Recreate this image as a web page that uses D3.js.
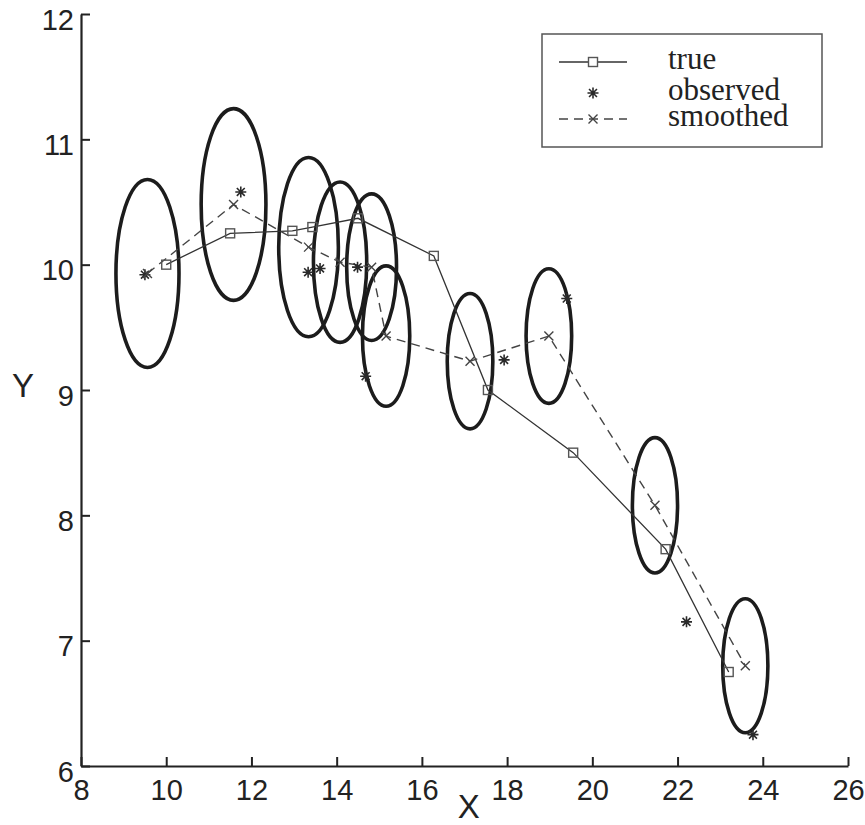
<!DOCTYPE html>
<html>
<head>
<meta charset="utf-8">
<script src="https://cdn.jsdelivr.net/npm/d3@7"></script>
<style>
  body { margin: 0; background: #fff; }
  .tick text { font-family: "Liberation Sans Narrow", "Arial Narrow", sans-serif; font-size: 29px; fill: #222; }
</style>
</head>
<body>
<script>
// values
const xTicks = [8, 10, 12, 14, 16, 18, 20, 22, 24, 26];
const yTicks = [6, 7, 8, 9, 10, 11, 12];

const trueX = [10.0, 11.5, 12.96, 13.43, 14.5, 16.28, 17.55, 19.55, 21.72, 23.2];
const trueY = [10.0, 10.25, 10.27, 10.30, 10.37, 10.07, 9.0, 8.5, 7.73, 6.75];

const obsX = [9.5, 11.75, 13.33, 13.61, 14.49, 14.68, 17.93, 19.4, 22.21, 23.77];
const obsY = [9.92, 10.58, 9.94, 9.97, 9.98, 9.11, 9.24, 9.73, 7.15, 6.25];

const smoothX = [9.56, 11.58, 13.34, 14.08, 14.82, 15.16, 17.13, 18.98, 21.47, 23.59];
const smoothY = [9.93, 10.48, 10.14, 10.02, 9.98, 9.43, 9.23, 9.43, 8.08, 6.80];

// covariance ellipse half-widths, in data units
const ellRx = [0.74, 0.76, 0.70, 0.625, 0.585, 0.555, 0.535, 0.535, 0.53, 0.53];
const ellRy = [0.75, 0.765, 0.715, 0.64, 0.585, 0.56, 0.54, 0.537, 0.54, 0.535];

const legendLabels = ["true", "observed", "smoothed"];

let margin = null, width = null, height = null;
let svg = null;
let x, y = null;

setupCanvasSize();
appendSvg("body");
setupScales();
appendAxes();
appendEllipses();
appendLines();
appendMarkers();
appendLegend();

function setupCanvasSize() {
  margin = {top: 14, left: 81, bottom: 59, right: 17};
  width = 865 - margin.left - margin.right;
  height = 825 - margin.top - margin.bottom;
}

function appendSvg(domElement) {
  svg = d3.select(domElement).append("svg")
    .attr("width", width + margin.left + margin.right)
    .attr("height", height + margin.top + margin.bottom)
    .append("g")
    .attr("transform", `translate(${margin.left}, ${margin.top})`);
}

function setupScales() {
  x = d3.scaleLinear().domain([8, 26]).range([0, width]);
  y = d3.scaleLinear().domain([6, 12]).range([height, 0]);
}

function appendAxes() {
  const gx = svg.append("g")
    .attr("transform", `translate(0, ${height})`)
    .call(d3.axisBottom(x).tickValues(xTicks).tickFormat(d3.format("d"))
      .tickSizeInner(-9).tickSizeOuter(0).tickPadding(13));
  const gy = svg.append("g")
    .call(d3.axisLeft(y).tickValues(yTicks).tickFormat(d3.format("d"))
      .tickSizeInner(-9).tickSizeOuter(0).tickPadding(7));

  [gx, gy].forEach(g => {
    g.select(".domain").attr("stroke", "#222").attr("stroke-width", 2.2);
    g.selectAll(".tick line").attr("stroke", "#222").attr("stroke-width", 2);
  });
  gy.selectAll(".tick text").attr("dy", "0.52em");

  svg.append("text")
    .attr("x", x(17.1)).attr("y", height + 52)
    .attr("text-anchor", "middle")
    .style("font-family", "Liberation Sans, Arial, sans-serif")
    .style("font-size", "33px").attr("fill", "#222")
    .text("X");

  svg.append("text")
    .attr("x", -58).attr("y", y(9) + 7)
    .attr("text-anchor", "middle")
    .style("font-family", "Liberation Sans, Arial, sans-serif")
    .style("font-size", "33px").attr("fill", "#222")
    .text("Y");
}

function appendEllipses() {
  svg.append("g").selectAll("ellipse")
    .data(smoothX)
    .enter().append("ellipse")
      .attr("cx", d => x(d))
      .attr("cy", (d, i) => y(smoothY[i]))
      .attr("rx", (d, i) => x(8 + ellRx[i]) - x(8))
      .attr("ry", (d, i) => y(6) - y(6 + ellRy[i]))
      .attr("fill", "none")
      .attr("stroke", "#1c1c1c")
      .attr("stroke-width", 3.6);
}

function appendLines() {
  const line = d3.line();
  svg.append("path")
    .attr("d", line(trueX.map((d, i) => [x(d), y(trueY[i])])))
    .attr("fill", "none").attr("stroke", "#333").attr("stroke-width", 1.3);
  svg.append("path")
    .attr("d", line(smoothX.map((d, i) => [x(d), y(smoothY[i])])))
    .attr("fill", "none").attr("stroke", "#444").attr("stroke-width", 1.4)
    .attr("stroke-dasharray", "9,6");
}

function starPath(cx, cy, r) {
  const d = r * 0.72;
  return `M${cx - r},${cy}H${cx + r}M${cx},${cy - r}V${cy + r}` +
    `M${cx - d},${cy - d}L${cx + d},${cy + d}M${cx - d},${cy + d}L${cx + d},${cy - d}`;
}

function crossPath(cx, cy, r) {
  return `M${cx - r},${cy - r}L${cx + r},${cy + r}M${cx - r},${cy + r}L${cx + r},${cy - r}`;
}

function appendMarkers() {
  svg.append("g").selectAll("rect")
    .data(trueX)
    .enter().append("rect")
      .attr("x", d => x(d) - 4.5)
      .attr("y", (d, i) => y(trueY[i]) - 4.5)
      .attr("width", 9).attr("height", 9)
      .attr("fill", "none").attr("stroke", "#555").attr("stroke-width", 1.4);

  svg.append("g").selectAll("path")
    .data(obsX)
    .enter().append("path")
      .attr("d", (d, i) => starPath(x(d), y(obsY[i]), 5.5))
      .attr("stroke", "#2a2a2a").attr("stroke-width", 1.6);

  svg.append("g").selectAll("path")
    .data(smoothX)
    .enter().append("path")
      .attr("d", (d, i) => crossPath(x(d), y(smoothY[i]), 4.5))
      .attr("stroke", "#444").attr("stroke-width", 1.4);
}

function appendLegend() {
  const lg = svg.append("g")
    .attr("transform", `translate(${542 - margin.left}, ${34 - margin.top})`);
  lg.append("rect")
    .attr("width", 280).attr("height", 113)
    .attr("fill", "#fff").attr("stroke", "#555").attr("stroke-width", 1.5);

  const rowY = [28, 59, 85];
  // true
  lg.append("line").attr("x1", 17).attr("x2", 85).attr("y1", rowY[0]).attr("y2", rowY[0])
    .attr("stroke", "#333").attr("stroke-width", 1.3);
  lg.append("rect").attr("x", 51 - 4.5).attr("y", rowY[0] - 4.5).attr("width", 9).attr("height", 9)
    .attr("fill", "#fff").attr("stroke", "#555").attr("stroke-width", 1.4);
  // observed
  lg.append("path").attr("d", starPath(51, rowY[1], 5.5))
    .attr("stroke", "#2a2a2a").attr("stroke-width", 1.6);
  // smoothed
  lg.append("line").attr("x1", 17).attr("x2", 85).attr("y1", rowY[2]).attr("y2", rowY[2])
    .attr("stroke", "#444").attr("stroke-width", 1.4).attr("stroke-dasharray", "9,6");
  lg.append("path").attr("d", crossPath(51, rowY[2], 4.5))
    .attr("stroke", "#444").attr("stroke-width", 1.4);

  lg.selectAll("text.lab")
    .data(legendLabels)
    .enter().append("text")
      .attr("class", "lab")
      .attr("x", 126)
      .attr("y", (d, i) => rowY[i] + 7)
      .style("font-family", "Liberation Serif, Times New Roman, serif")
      .style("font-size", "31px").attr("fill", "#222")
      .text(d => d);
}
</script>
</body>
</html>
